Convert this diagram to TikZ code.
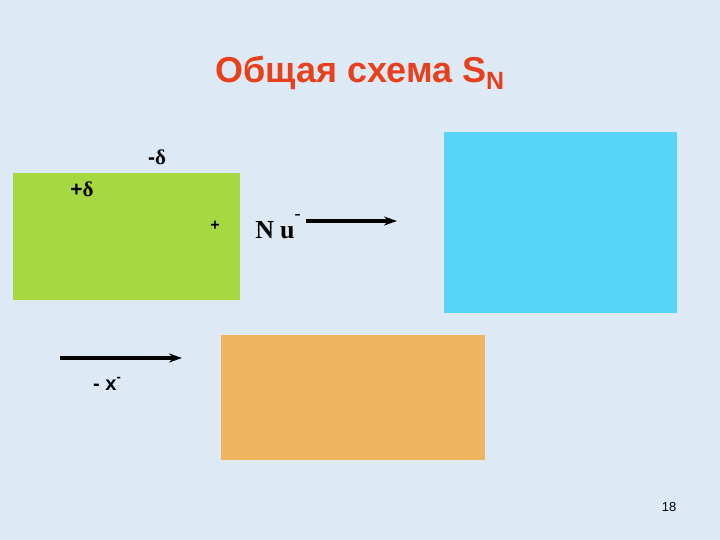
\documentclass[tikz,border=0pt]{standalone}
\usepackage{fontspec}
\setmainfont{Liberation Sans}
\newfontfamily\nufont{Liberation Serif}
\usetikzlibrary{arrows.meta}
\definecolor{slidebg}{RGB}{222,233,246}
\definecolor{leafgreen}{RGB}{166,216,66}
\definecolor{skyblue}{RGB}{88,212,248}
\definecolor{sandorange}{RGB}{238,180,96}
\definecolor{titlered}{RGB}{232,64,28}

\begin{document}
\begin{tikzpicture}[x=1pt,y=-1pt,thick,
  charge/.style={font=\fontsize{21}{23}\selectfont\bfseries},
  react/.style={line width=3.5pt,-{Stealth[length=13pt,width=9pt]}}]
\fill[slidebg] (0,0) rectangle (720,540);

% boxes
\fill[leafgreen] (13,173) rectangle (240,300);
\fill[skyblue] (444,132) rectangle (677,313);
\fill[sandorange] (221,335) rectangle (485,460);

\node[text=titlered,font=\fontsize{36}{40}\selectfont\bfseries] (title) at (360,73)
  {Общая схема S\raisebox{-0.35ex}{\fontsize{25}{27}\selectfont N}};

\node[charge] (dminus) at (157,157) {-{\nufont δ}};
\node[charge] (dplus) at (82,189) {+{\nufont δ}};
\node[font=\fontsize{16}{18}\selectfont\bfseries] (plus) at (215,226) {+};
\node[font=\fontsize{26}{30}\selectfont\nufont\bfseries] (nu) at (278,227)
  {N\hspace{6pt}u\raisebox{1.6ex}{\fontsize{18}{18}\selectfont -}};

\coordinate (nuend) at (397,221);
\draw[react] (nu.east |- nuend) ++(2,0) -- (nuend);

\coordinate (xstart) at (60,358);
\coordinate (xend) at (182,358);
\draw[react] (xstart) -- (xend);
\node[charge,font=\fontsize{20}{22}\selectfont\bfseries] (leave) at (107,384)
  {- x\raisebox{0.9ex}{\fontsize{13}{13}\selectfont -}};

\node[font=\fontsize{13}{14}\selectfont] (page) at (669,507) {18};
\end{tikzpicture}
\end{document}
